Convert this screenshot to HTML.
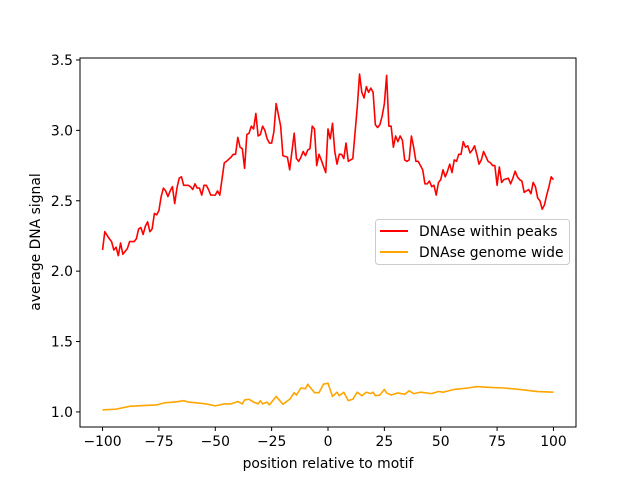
<!DOCTYPE html>
<html><head><meta charset="utf-8"><style>
body{margin:0;background:#fff}
svg{font-family:"DejaVu Sans","Liberation Sans",sans-serif}
</style></head><body>
<svg id="chart" width="640" height="480" xmlns="http://www.w3.org/2000/svg">
<rect width="640" height="480" fill="#fff"/>
<g id="ticks"></g>
<g id="lines"></g>
<rect x="80" y="58" width="496" height="369" fill="none" stroke="#000" stroke-width="1"/>
<text x="328" y="468" font-size="13.9" text-anchor="middle">position relative to motif</text>
<text transform="translate(40,242) rotate(-90)" font-size="13.9" text-anchor="middle">average DNA signal</text>
<g>
<rect x="375.5" y="219.5" width="194" height="45" rx="3" fill="#fff" fill-opacity="0.8" stroke="#ccc"/>
<line x1="380" y1="231" x2="408" y2="231" stroke="#ff0000" stroke-width="2"/>
<text x="419" y="236" font-size="13.9">DNAse within peaks</text>
<line x1="380" y1="252" x2="408" y2="252" stroke="#ffa500" stroke-width="2"/>
<text x="419" y="257" font-size="13.9">DNAse genome wide</text>
</g>
</svg>
<script>
const xTicks=[-100,-75,-50,-25,0,25,50,75,100];
const yTicks=[1.0,1.5,2.0,2.5,3.0,3.5];
const peaksX=[-100,-99,-97,-96,-95,-94,-93,-92,-91,-89,-88,-86,-85,-84,-83,-82,-81,-80,-79,-78,-77,-76,-75,-74,-73,-72,-71,-70,-69,-68,-67,-66,-65,-64,-62,-61,-60,-59,-58,-57,-56,-55,-54,-53,-52,-50,-49,-48,-46,-45,-43,-42,-41,-40,-39,-38,-37,-36,-35,-34,-33,-32,-31,-30,-29,-28,-27,-26,-25,-24,-23,-22,-21,-20,-18,-17,-15,-14,-13,-12,-11,-10,-9,-8,-7,-6,-5,-4,-3,-1,0,1,2,3,4,5,6,7,8,9,11,13,14,15,16,17,18,19,20,21,22,23,24,25,26,27,28,29,30,31,32,33,34,35,36,37,38,39,40,42,43,44,45,46,47,48,49,50,51,52,53,54,55,56,57,58,59,60,61,62,63,64,65,66,67,68,69,71,72,73,74,75,76,77,78,80,81,82,83,84,85,86,87,89,90,91,92,93,94,95,96,97,98,99,100];
const peaksY=[2.15,2.28,2.23,2.21,2.15,2.17,2.11,2.20,2.12,2.16,2.21,2.21,2.23,2.30,2.31,2.26,2.32,2.35,2.28,2.30,2.41,2.40,2.43,2.53,2.59,2.57,2.53,2.57,2.60,2.48,2.59,2.66,2.67,2.61,2.61,2.60,2.58,2.62,2.59,2.59,2.54,2.61,2.61,2.58,2.54,2.54,2.57,2.54,2.77,2.78,2.81,2.83,2.83,2.95,2.88,2.87,2.73,2.97,2.98,3.03,3.01,3.12,2.96,2.97,3.03,3.00,2.94,2.91,2.91,2.99,3.19,3.11,3.03,2.82,2.81,2.72,2.98,2.80,2.78,2.81,2.85,2.82,2.86,2.87,3.03,3.01,2.75,2.83,2.79,2.70,3.01,2.94,3.05,2.85,2.76,2.83,2.83,2.80,2.91,2.78,2.80,3.17,3.40,3.27,3.23,3.31,3.27,3.30,3.27,3.04,3.02,3.04,3.10,3.19,3.39,3.03,3.03,2.88,2.96,2.92,2.96,2.93,2.79,2.78,2.79,2.96,2.88,2.78,2.78,2.72,2.62,2.62,2.64,2.60,2.61,2.54,2.63,2.65,2.72,2.67,2.71,2.76,2.70,2.79,2.78,2.83,2.83,2.92,2.88,2.89,2.84,2.86,2.89,2.83,2.76,2.79,2.85,2.78,2.77,2.75,2.75,2.61,2.74,2.63,2.65,2.66,2.62,2.66,2.71,2.67,2.65,2.64,2.56,2.58,2.55,2.63,2.60,2.52,2.50,2.44,2.47,2.54,2.60,2.67,2.65,2.65,2.68,2.63];
const genomeX=[-100,-94,-88,-82,-76,-72,-68,-64,-62,-59,-54,-50,-46,-43,-40,-38,-37,-35,-33,-31,-30,-29,-27,-26,-23,-20,-17,-15,-14,-12,-10,-9,-6,-4,-2,0,2,4,5,7,9,11,13,15,17,19,20,21,23,25,26,28,31,34,36,38,41,46,49,51,56,62,66,71,78,85,93,100];
const genomeY=[1.014,1.02,1.04,1.045,1.05,1.066,1.07,1.08,1.07,1.066,1.057,1.043,1.057,1.057,1.074,1.057,1.085,1.09,1.07,1.057,1.08,1.057,1.07,1.05,1.11,1.055,1.09,1.137,1.12,1.17,1.165,1.197,1.137,1.137,1.197,1.204,1.11,1.14,1.115,1.14,1.08,1.09,1.14,1.115,1.14,1.13,1.14,1.115,1.12,1.16,1.135,1.12,1.135,1.125,1.15,1.13,1.14,1.13,1.145,1.14,1.16,1.17,1.18,1.175,1.17,1.16,1.145,1.14];
const X0=80,X1=576,Y0=58,Y1=427,xmin=-110,xmax=110,ymin=0.893,ymax=3.514;
function sx(v){return X0+(v-xmin)/(xmax-xmin)*(X1-X0);}
function sy(v){return Y1-(v-ymin)/(ymax-ymin)*(Y1-Y0);}
const NS="http://www.w3.org/2000/svg";
const tg=document.getElementById('ticks'),lg=document.getElementById('lines');
function mk(t,a,p){const e=document.createElementNS(NS,t);for(const k in a)e.setAttribute(k,a[k]);p.appendChild(e);return e;}
xTicks.forEach(v=>{
 const l=mk('line',{x1:sx(v),x2:sx(v),y1:Y1,y2:Y1+4,stroke:'#000'},tg);
 
 
 const t=mk('text',{x:sx(v),y:Y1+19,'font-size':13.9,'text-anchor':'middle'},tg);t.textContent=String(v).replace('-','\u2212');
 
 
});
yTicks.forEach(v=>{
 const l=mk('line',{x1:X0-4,x2:X0,y1:sy(v),y2:sy(v),stroke:'#000'},tg);
 
 
 const t=mk('text',{x:X0-7,y:sy(v)+5,'font-size':13.9,'text-anchor':'end'},tg);t.textContent=v.toFixed(1);
 
 
});
function line(xs,ys,c,name){
 const p=mk('polyline',{points:xs.map((x,i)=>sx(x)+','+sy(ys[i])).join(' '),fill:'none',stroke:c,'stroke-width':1.6,'stroke-linejoin':'round'},lg);
 
 
}
line(genomeX,genomeY,'#ffa500','genome-wide-line');
line(peaksX,peaksY,'#ff0000','within-peaks-line');
</script>
</body></html>
